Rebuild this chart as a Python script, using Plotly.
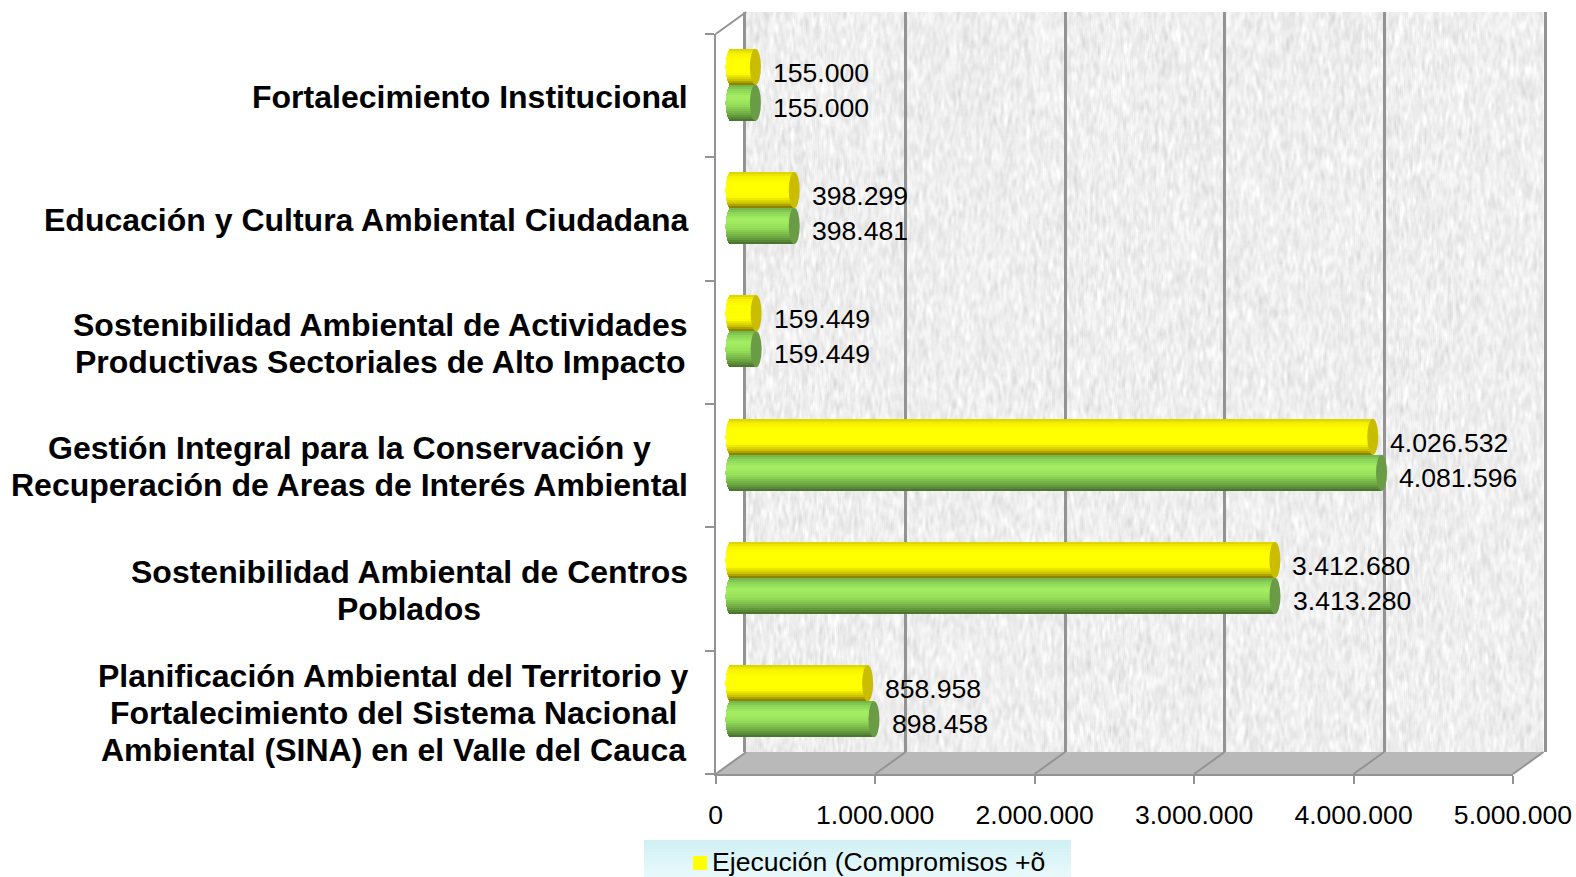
import base64, struct, zlib
import numpy as np
import plotly.graph_objects as go

# ---------- data (bottom to top) ----------
categories = [
    "Planificación Ambiental del Territorio y Fortalecimiento del Sistema Nacional Ambiental (SINA) en el Valle del Cauca",
    "Sostenibilidad Ambiental de Centros Poblados",
    "Gestión Integral para la Conservación y Recuperación de Areas de Interés Ambiental",
    "Sostenibilidad Ambiental de Actividades Productivas Sectoriales de Alto Impacto",
    "Educación y Cultura Ambiental Ciudadana",
    "Fortalecimiento Institucional",
]
category_lines = [
    ["Planificación Ambiental del Territorio y", "Fortalecimiento del Sistema Nacional ", "Ambiental (SINA) en el Valle del Cauca"],
    ["Sostenibilidad Ambiental de Centros", "Poblados"],
    ["Gestión Integral para la Conservación y ", "Recuperación de Areas de Interés Ambiental"],
    ["Sostenibilidad Ambiental de Actividades", "Productivas Sectoriales de Alto Impacto"],
    ["Educación y Cultura Ambiental Ciudadana"],
    ["Fortalecimiento Institucional"],
]
ejecucion = [858958, 3412680, 4026532, 159449, 398299, 155000]
apropiacion = [898458, 3413280, 4081596, 159449, 398481, 155000]
x_ticks = [0, 1000000, 2000000, 3000000, 4000000, 5000000]
legend_label = "Ejecución (Compromisos +õ"

# ---------- layout constants ----------
W, H = 1576, 877
FONT = "Liberation Sans"
GREY = "#939393"
FRONT_L, FRONT_R, FRONT_T, FRONT_B = 715.7, 1513.0, 34.0, 774.0
DX, DY = 30.5, 22.0
label_centers = [393, 409, 349, 380, 365.6, 470]
BAR_H = 0.292
N = 18
CAP = 5.5
PX_PER_VAL = (FRONT_R - FRONT_L) / 5000000
BAR_RANGE_START = -100000


def fx(p):
    return p / W


def fy(p):
    return 1 - p / H


def png_uri(arr):
    h, w = arr.shape[:2]
    raw = b"".join(b"\x00" + arr[r].tobytes() for r in range(h))

    def chunk(t, d):
        c = struct.pack(">I", len(d)) + t + d
        return c + struct.pack(">I", zlib.crc32(t + d) & 0xFFFFFFFF)

    data = (b"\x89PNG\r\n\x1a\n" + chunk(b"IHDR", struct.pack(">IIBBBBB", w, h, 8, 0, 0, 0, 0))
            + chunk(b"IDAT", zlib.compress(raw)) + chunk(b"IEND", b""))
    return "data:image/png;base64," + base64.b64encode(data).decode()


def wall_texture():
    # decorative paper grain of the back wall
    rng = np.random.default_rng(7)
    h, w = 740, 800
    n = rng.normal(0, 1, (h, w))
    for _ in range(2):
        n = sum(np.roll(n, k, axis=0) for k in range(-3, 4)) / 3.0
    n = (n + np.roll(n, 1, axis=1) + np.roll(n, -1, axis=1)) / 3.0
    n = n / n.std()
    return np.clip(239 + n * 6, 215, 255).astype(np.uint8)


def blend(stops, t):
    pos = [s[0] for s in stops]
    rgb = [np.interp(t, pos, [s[1][i] for s in stops]) for i in range(3)]
    return "rgb(%d,%d,%d)" % tuple(int(round(c)) for c in rgb)


yellow_stops = [(0, (214, 206, 0)), (0.12, (245, 240, 0)), (0.3, (255, 255, 0)), (0.68, (255, 255, 0)),
                (0.86, (205, 195, 0)), (1, (125, 115, 0))]
green_stops = [(0, (112, 176, 72)), (0.14, (140, 214, 88)), (0.32, (166, 238, 98)), (0.55, (150, 224, 90)),
               (0.82, (108, 166, 66)), (1, (70, 108, 44))]

fig = go.Figure()

# invisible traces keep the frames as real subplots
fig.add_trace(go.Scatter(x=[0], y=[categories[0]], xaxis="x", yaxis="y", mode="markers",
                         marker=dict(opacity=0), showlegend=False, hoverinfo="skip"))
fig.add_trace(go.Scatter(x=[0], y=[categories[0]], xaxis="x2", yaxis="y2", mode="markers",
                         marker=dict(opacity=0), showlegend=False, hoverinfo="skip"))
fig.add_trace(go.Scatter(x=[0], y=[0], xaxis="x4", yaxis="y4", mode="markers",
                         marker=dict(opacity=0), showlegend=False, hoverinfo="skip"))

a_val = CAP / PX_PER_VAL
shapes = []
annotations = []
for series, stops, start, cap_col, lab_shift in [(ejecucion, yellow_stops, 0.0, "#cabd00", -6),
                                                 (apropiacion, green_stops, -BAR_H, "#6a9c45", -5)]:
    for i in range(N):
        t_mid = (i + 0.5) / N
        u = 2 * t_mid - 1
        base = -a_val * np.sqrt(max(1 - u * u, 0))
        strip = BAR_H / N
        top = start + BAR_H - i * strip
        bottom = top - strip * (1.35 if i < N - 1 else 1)
        fig.add_trace(go.Bar(
            x=[v - base for v in series], y=categories, base=base, orientation="h",
            width=top - bottom, offset=bottom, xaxis="x3", yaxis="y3", cliponaxis=False,
            marker=dict(color=blend(stops, t_mid), line=dict(width=0)),
            showlegend=False, hoverinfo="skip"))
    for idx, v in enumerate(series):
        shapes.append(dict(type="circle", xref="x3", yref="y3", xsizemode="pixel", xanchor=v,
                           x0=-CAP, x1=CAP, y0=idx + start, y1=idx + start + BAR_H,
                           fillcolor=cap_col, line=dict(width=0), layer="above"))
        annotations.append(dict(xref="x3", yref="y3", x=v, y=idx + start + BAR_H / 2,
                                text=f"{v:,}".replace(",", "."), showarrow=False, xanchor="left",
                                yanchor="middle", xshift=15.6, yshift=lab_shift,
                                font=dict(family=FONT, size=26.6, color="#000000")))

# category labels, one annotation per line so the 37 px leading holds
for idx, lines in enumerate(category_lines):
    n = len(lines)
    for k, line in enumerate(lines):
        annotations.append(dict(xref="x4", yref="y", x=label_centers[idx], y=categories[idx],
                                text=f"<b>{line.strip()}</b>", showarrow=False, xanchor="center",
                                yanchor="middle", yshift=-1 - 37 * (k - (n - 1) / 2),
                                font=dict(family=FONT, size=32, color="#000000")))

# floor and depth lines, derived from the tick values
shapes.append(dict(type="path", xref="paper", yref="paper", layer="below", fillcolor="#b9b9b9",
                   line=dict(width=0),
                   path=f"M {fx(FRONT_L)} {fy(FRONT_B)} L {fx(FRONT_L+DX)} {fy(FRONT_B-DY)} "
                        f"L {fx(FRONT_R+DX)} {fy(FRONT_B-DY)} L {fx(FRONT_R)} {fy(FRONT_B)} Z"))
for t in x_ticks:
    px = FRONT_L + t * PX_PER_VAL
    shapes.append(dict(type="line", xref="paper", yref="paper", layer="below",
                       x0=fx(px), y0=fy(FRONT_B), x1=fx(px + DX), y1=fy(FRONT_B - DY),
                       line=dict(color=GREY, width=2)))
shapes.append(dict(type="line", xref="paper", yref="paper", layer="below",
                   x0=fx(FRONT_L), y0=fy(FRONT_T), x1=fx(FRONT_L + DX), y1=fy(FRONT_T - DY),
                   line=dict(color=GREY, width=2)))

# clipped legend at the bottom edge
LEG_L, LEG_R, LEG_T, LEG_B = 644.0, 1071.0, 840.0, 877.0
for i in range(12):
    y0 = LEG_T + (LEG_B - LEG_T) * i / 12
    y1 = LEG_T + (LEG_B - LEG_T) * (i + 1) / 12 + 0.5
    shapes.append(dict(type="rect", xref="paper", yref="paper", layer="below",
                       x0=fx(LEG_L), x1=fx(LEG_R), y0=fy(y0), y1=fy(min(y1, LEG_B)),
                       fillcolor=blend([(0, (208, 240, 244)), (1, (232, 249, 251))], i / 11),
                       line=dict(width=0)))
shapes.append(dict(type="rect", xref="paper", yref="paper", layer="above",
                   x0=fx(693), x1=fx(707), y0=fy(856), y1=fy(870), fillcolor="#ffff00", line=dict(width=0)))
annotations.append(dict(xref="x4", yref="y4", x=710, y=862, text=legend_label,
                        showarrow=False, xanchor="left", yanchor="middle",
                        font=dict(family=FONT, size=26.6, color="#000000")))

y_common = dict(type="category", categoryorder="array", categoryarray=categories,
                range=[-0.5, 5.5], autorange=False, fixedrange=True, showticklabels=False)

fig.update_layout(
    width=W, height=H, margin=dict(l=0, r=0, t=0, b=0, pad=0), autosize=False,
    paper_bgcolor="#ffffff", plot_bgcolor="rgba(0,0,0,0)",
    barmode="overlay", bargap=0, showlegend=False, separators=",.",
    font=dict(family=FONT, color="#000000"),
    # front frame: value ticks and category ticks
    xaxis=dict(domain=[fx(FRONT_L), fx(FRONT_R)], range=[0, 5000000], autorange=False,
               tickvals=x_ticks, tickformat=",d", ticks="outside", ticklen=8, tickwidth=2,
               tickcolor=GREY, showgrid=False, zeroline=False, showline=True, linecolor=GREY,
               linewidth=2, anchor="y", ticklabelstandoff=8, automargin=False,
               tickfont=dict(family=FONT, size=26.6, color="#000000"), fixedrange=True),
    yaxis=dict(domain=[fy(FRONT_B), fy(FRONT_T)], anchor="x", ticks="outside", ticklen=9, tickwidth=2,
               tickcolor=GREY, tickson="boundaries", showgrid=False, zeroline=False, showline=True,
               linecolor=GREY, linewidth=2, **y_common),
    # back wall
    xaxis2=dict(domain=[fx(FRONT_L + DX), fx(FRONT_R + DX)], range=[0, 5000000], autorange=False,
                tickvals=x_ticks, showticklabels=False, ticks="", showgrid=True, gridcolor=GREY, gridwidth=2.5,
                zeroline=False, showline=False, anchor="y2", fixedrange=True),
    yaxis2=dict(domain=[fy(FRONT_B - DY), fy(FRONT_T - DY)], anchor="x2", ticks="", showgrid=False,
                zeroline=False, showline=True, mirror=True, linecolor=GREY, linewidth=2.5, **y_common),
    # mid depth, where the bars stand; the range reaches below zero for the rounded bar backs
    xaxis3=dict(domain=[fx(FRONT_L + 15 + BAR_RANGE_START * PX_PER_VAL), fx(FRONT_R + 15)],
                range=[BAR_RANGE_START, 5000000], autorange=False,
                visible=False, anchor="y3", fixedrange=True),
    yaxis3=dict(domain=[fy(FRONT_B - 11), fy(FRONT_T - 11)], anchor="x3", visible=False, **y_common),
    # full-page pixel frame for texts outside the plot area
    xaxis4=dict(domain=[0, 1], range=[0, W], autorange=False, visible=False, anchor="y4", fixedrange=True),
    yaxis4=dict(domain=[0, 1], range=[H, 0], autorange=False, visible=False, anchor="x4", fixedrange=True),
    images=[dict(source=png_uri(wall_texture()), xref="paper", yref="paper",
                 x=fx(FRONT_L + DX), y=fy(FRONT_T - DY), sizex=(FRONT_R - FRONT_L) / W,
                 sizey=(FRONT_B - FRONT_T) / H, sizing="stretch", xanchor="left", yanchor="top",
                 layer="below")],
    shapes=shapes,
    annotations=annotations,
)

fig.write_html("out.html", config=dict(displayModeBar=False, responsive=False),
               post_script="document.body.style.margin='0';document.body.style.overflow='hidden';")
